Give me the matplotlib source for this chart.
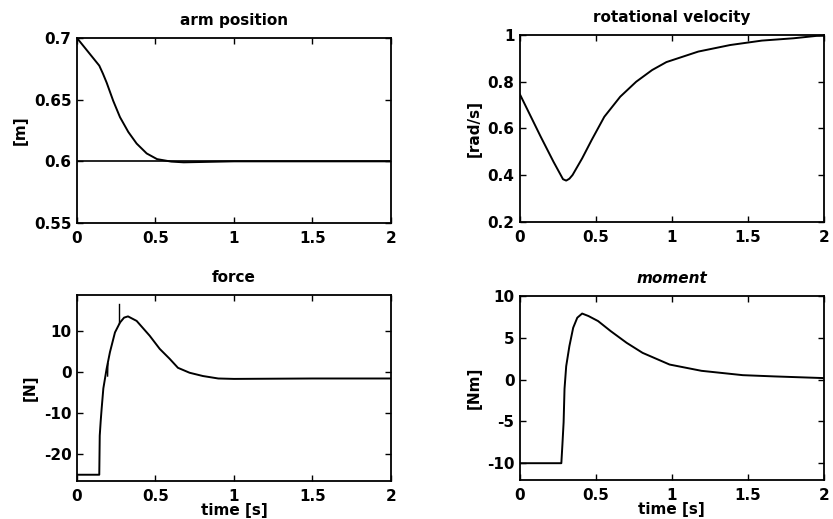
import matplotlib
matplotlib.use("Agg")
import matplotlib.pyplot as plt
from matplotlib.ticker import FuncFormatter

# arm position [m]
t_arm = [0, 0.142, 0.165, 0.189, 0.231, 0.274, 0.327, 0.38, 0.444, 0.51, 0.6, 0.68, 0.8, 1.0, 1.5, 2.0]
arm = [0.7, 0.6776, 0.6712, 0.6638, 0.649, 0.6358, 0.6238, 0.6144, 0.6064, 0.6018, 0.5998, 0.5992, 0.5995, 0.6, 0.6, 0.6]
arm_target = 0.6

# rotational velocity [rad/s]
t_rot = [0, 0.136, 0.22, 0.283, 0.304, 0.325, 0.346, 0.409, 0.472, 0.555, 0.66, 0.765,
         0.87, 0.964, 1.174, 1.384, 1.593, 1.803, 1.95, 2.0]
rot = [0.745, 0.565, 0.458, 0.383, 0.377, 0.385, 0.401, 0.472, 0.551, 0.65, 0.736, 0.8,
       0.85, 0.884, 0.929, 0.957, 0.976, 0.986, 0.996, 0.997]

# force [N]
t_force = [0, 0.142, 0.145, 0.151, 0.157, 0.168, 0.189, 0.21, 0.242, 0.274, 0.3, 0.325,
           0.38, 0.463, 0.527, 0.59, 0.643, 0.717, 0.802, 0.9, 1.0, 1.5, 2.0]
force = [-25, -25, -15.5, -12, -9, -4, 0.8, 4.8, 9.6, 12, 13.2, 13.5,
         12.4, 8.8, 5.6, 3.2, 1.0, -0.2, -1.0, -1.6, -1.7, -1.6, -1.6]
spike_t = [0.268, 0.268]
spike_f = [11.8, 16.4]
glitch_t = [0.195, 0.197]
glitch_f = [-1.0, 2.0]

# moment [Nm]
t_mom = [0, 0.272, 0.279, 0.287, 0.293, 0.304, 0.325, 0.35, 0.377, 0.409, 0.451, 0.514,
         0.597, 0.702, 0.807, 0.985, 1.195, 1.467, 1.675, 2.0]
mom = [-10, -10, -7.8, -5.1, -1.1, 1.6, 4.0, 6.2, 7.4, 7.9, 7.6, 7.0,
       5.8, 4.4, 3.2, 1.8, 1.05, 0.53, 0.38, 0.18]

xticks = [0, 0.5, 1, 1.5, 2]

plt.rcParams['font.family'] = ['DejaVu Sans']
plt.rcParams['font.weight'] = 'bold'
plt.rcParams['font.size'] = 11
plt.rcParams['axes.unicode_minus'] = False

fig = plt.figure(figsize=(8.33, 5.19), dpi=100)
fmt = FuncFormatter(lambda v, p: "%g" % round(v, 6))


def style(ax, title, ylabel, ylim, yticks, italic=False, xlabel=None):
    ax.set_xlim(0, 2)
    ax.set_ylim(*ylim)
    ax.set_xticks(xticks)
    ax.set_yticks(yticks)
    ax.xaxis.set_major_formatter(fmt)
    ax.yaxis.set_major_formatter(fmt)
    ax.tick_params(direction='in', top=True, right=True, length=4, width=1)
    ax.tick_params(axis='x', pad=6)
    ax.tick_params(axis='y', pad=4)
    for s in ax.spines.values():
        s.set_linewidth(1.3)
    ax.set_title(title, fontsize=11, fontweight='bold',
                 style='italic' if italic else 'normal', pad=9)
    ax.set_ylabel(ylabel, fontweight='bold')
    if xlabel:
        ax.set_xlabel(xlabel, fontweight='bold', labelpad=-1)


ax1 = fig.add_axes([0.0924, 0.5703, 0.377, 0.3565])
ax1.plot(t_arm, arm, color='black', lw=1.4)
ax1.axhline(arm_target, color='black', lw=1.2)
style(ax1, "arm position", "[m]", (0.55, 0.7), [0.55, 0.6, 0.65, 0.7])

ax2 = fig.add_axes([0.6243, 0.5723, 0.3645, 0.3603])
ax2.plot(t_rot, rot, color='black', lw=1.4)
style(ax2, "rotational velocity", "[rad/s]", (0.2, 1.0), [0.2, 0.4, 0.6, 0.8, 1.0])

ax3 = fig.add_axes([0.0924, 0.0734, 0.377, 0.3582])
ax3.plot(t_force, force, color='black', lw=1.4)
ax3.plot(spike_t, spike_f, color='black', lw=1.0)
ax3.plot(glitch_t, glitch_f, color='black', lw=1.0)
style(ax3, "force", "[N]", (-26.5, 18.7), [-20, -10, 0, 10], xlabel="time [s]")

ax4 = fig.add_axes([0.6243, 0.0753, 0.3645, 0.3544])
ax4.plot(t_mom, mom, color='black', lw=1.4)
style(ax4, "moment", "[Nm]", (-12, 10), [-10, -5, 0, 5, 10], italic=True, xlabel="time [s]")

fig.savefig("out.png", dpi=100)
